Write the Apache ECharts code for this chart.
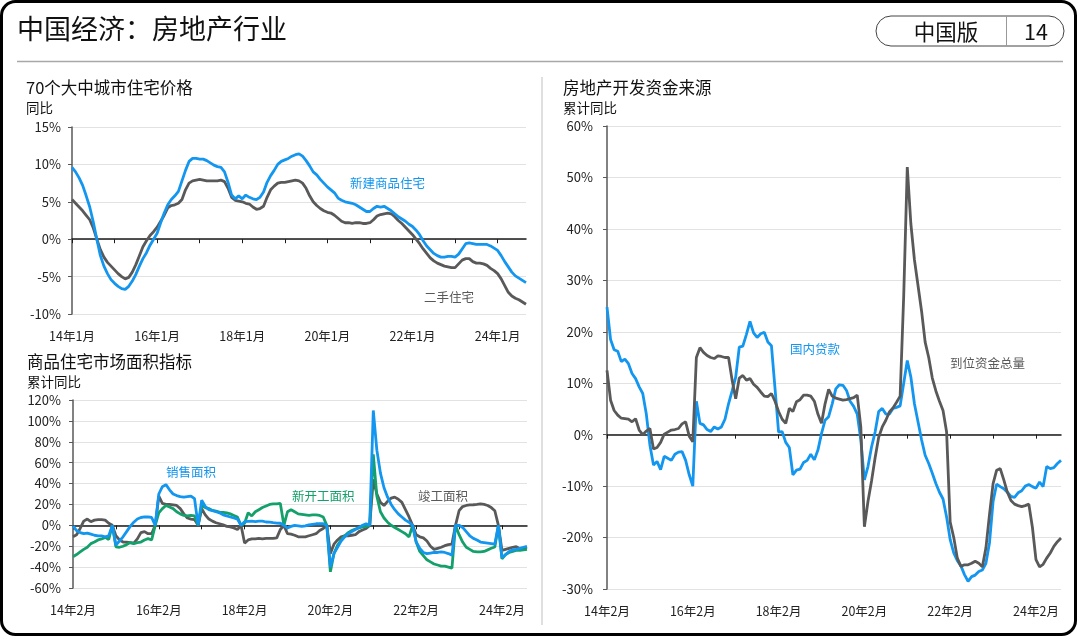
<!DOCTYPE html>
<html>
<head>
<meta charset="utf-8">
<title>中国经济：房地产行业</title>
<script src="https://cdn.jsdelivr.net/npm/echarts@6/dist/echarts.min.js"></script>
<style>
  html, body { margin: 0; padding: 0; background: #fff; }
  #main { width: 1080px; height: 637px; }
</style>
</head>
<body>
<div id="main"></div>
<script>
// 70个大中城市住宅价格 同比（14年1月起，月度）
var newHome = [
  9.6, 9.0, 8.2, 7.2, 5.8, 4.3, 2.3, 0, -2.2, -3.6,
  -4.6, -5.4, -5.9, -6.3, -6.6, -6.7, -6.3, -5.6, -4.7, -3.6,
  -2.6, -1.8, -0.8, 0, 0.8, 2.2, 3.5, 4.6, 5.3, 5.8,
  6.4, 7.8, 9.2, 10.4, 10.8, 10.8, 10.7, 10.7, 10.5, 10.2,
  9.9, 9.7, 9.6, 9.0, 7.6, 5.9, 5.4, 5.8, 5.4, 5.9,
  5.6, 5.4, 5.3, 5.6, 6.3, 7.6, 8.5, 9.2, 10.0, 10.4,
  10.6, 10.8, 11.1, 11.3, 11.4, 11.1, 10.5, 9.8, 9.0, 8.6,
  8.0, 7.5, 7.0, 6.6, 6.2, 5.5, 5.2, 5.0, 4.9, 4.8,
  4.6, 4.3, 4.0, 3.7, 3.7, 4.1, 4.4, 4.3, 4.4, 4.1,
  3.8, 3.4, 3.0, 2.7, 2.4, 2.0, 1.7, 1.2, 0.6, -0.2,
  -0.9, -1.4, -1.9, -2.2, -2.4, -2.4, -2.3, -2.3, -2.4, -2.0,
  -1.3, -0.6, -0.5, -0.6, -0.7, -0.7, -0.7, -0.7, -0.9, -1.2,
  -1.5, -2.2, -3.0, -3.7, -4.4, -4.9, -5.2, -5.5, -5.8
];
var secondHand = [
  5.3, 4.8, 4.3, 3.8, 3.2, 2.6, 1.5, 0, -1.4, -2.4,
  -3.1, -3.6, -4.1, -4.6, -5.0, -5.3, -5.1, -4.4, -3.4, -2.2,
  -1.0, -0.2, 0.5, 1.0, 1.6, 2.4, 3.2, 4.2, 4.5, 4.6,
  4.8, 5.3, 6.6, 7.5, 7.8, 7.9, 8.0, 7.9, 7.8, 7.8,
  7.8, 7.8, 7.9, 7.7, 6.8, 5.6, 5.2, 5.1, 5.0, 4.8,
  4.7, 4.3, 4.0, 4.1, 4.4, 5.6, 6.6, 7.1, 7.5, 7.6,
  7.6, 7.7, 7.8, 7.9, 7.8, 7.5, 6.8, 5.8, 5.0, 4.5,
  4.1, 3.8, 3.6, 3.5, 3.2, 2.8, 2.4, 2.2, 2.2, 2.1,
  2.2, 2.2, 2.1, 2.1, 2.2, 2.6, 3.1, 3.3, 3.4, 3.5,
  3.4, 3.0, 2.5, 2.1, 1.6, 1.1, 0.6, 0, -0.6, -1.3,
  -1.9, -2.5, -2.9, -3.2, -3.4, -3.6, -3.7, -3.8, -3.8, -3.3,
  -2.8, -2.6, -2.6, -3.0, -3.2, -3.2, -3.3, -3.5, -3.9, -4.2,
  -4.6, -5.3, -6.2, -7.1, -7.6, -7.9, -8.1, -8.4, -8.7
];

// 商品住宅市场面积指标 累计同比（14年2月起，月度；1月记为0）
var salesArea = [
  -0.5, -5, -7, -8, -7.5, -8.5, -9.5, -10, -10, -11,
  -10, 0, -19, -15, -11, -6, -1, 3, 6, 7.5,
  8, 8, 7.5, 0, 30, 37, 39, 34, 30, 28.5,
  27.5, 27, 27.5, 28, 25.5, 0, 24, 18, 15, 14,
  13, 12, 10, 9, 8, 7, 6, 0, 3.5, 3.8,
  4, 3.5, 4, 4, 3.2, 3, 2.5, 2.2, 2, 0,
  -2.5, -1, 0, -0.5, -1, -0.5, 0.5, 1, 1.5, 1.5,
  1.5, 0, -40, -27, -21, -15, -11, -8, -6, -4,
  -2, 0, 1.5, 0, 110, 72, 50, 36, 27, 20,
  15, 11, 8, 5, 3, 0, -16, -22, -26, -27,
  -26.5, -26, -26, -25.5, -26, -27, -28.5, 0, 0, -2,
  -6, -10, -12.5, -14, -16, -16.5, -17, -17.5, -18, 0,
  -31, -28, -25, -23.5, -23, -22, -21, -20
];
var startArea = [
  -30, -28, -25.5, -23, -21, -17.5, -16, -14, -13, -11.5,
  -13.5, 0, -20.5, -21, -20, -18.5, -16.5, -17.5, -16.5, -16,
  -14, -12.7, -14, 0, 12, 16, 19, 17.5, 16, 13,
  11, 9.5, 9, 9.5, 9, 0, 19, 17, 16, 14.3,
  13.5, 12.7, 12.5, 12, 11, 9.5, 8, 0, 2, 12,
  9, 13, 15, 17, 18.5, 20, 20.5, 20.5, 21, 0,
  13, 15, 13, 11, 10.5, 10, 9.5, 10, 10, 9.5,
  8, 0, -44.5, -27, -19, -14, -10, -7, -5, -3.5,
  -2.5, -1.5, -1, 0, 68, 28, 13, 7, 3, 0,
  -2, -4, -6, -8, -11, 0, -16, -25, -29, -33,
  -35, -37, -38, -39, -39, -40, -41, 0, -9, -16,
  -21, -23, -25, -25.5, -25.5, -25, -23.5, -22, -20.7, 0,
  -32, -28, -26, -25, -24, -24, -23.5, -23
];
var doneArea = [
  -11, -9, -3, 4, 6, 3.5, 5, 5.5, 5.5, 5,
  2, 0, -10, -14, -16, -16, -16.5, -17, -13, -7,
  -6, -8, -8, 0, 28, 21, 20, 20, 19.5, 19,
  16, 11, 7, 6, 5.5, 0, 16, 10, 6, 4,
  2.5, 1.5, 0.5, -1, -1.5, -2.5, -4, 0, -17, -14,
  -13, -13, -12.5, -13, -12.5, -12.5, -12.5, -12, -4, 0,
  -8, -8.5, -9.5, -11, -11, -11, -10, -9, -8, -5,
  -3, 0, -27, -18, -14, -11, -10, -10, -9.5, -9,
  -6, -4.5, -3, 0, 44, 30, 22, 19, 23, 26,
  27, 25, 22, 15, 8, 0, -9, -11, -12, -15,
  -20, -23, -22, -21, -19.5, -18.5, -18, 0, 14, 18,
  19, 19.5, 19.7, 20, 20.5, 20, 19, 17, 14, 0,
  -24, -23, -22, -21, -20.5, -22.5, -22, -21
];

// 房地产开发资金来源 累计同比（14年2月起，月度）
var loanFund = [
  24.8, 18.5, 16.5, 16.2, 14.2, 14.7, 13.8, 11.9, 10.9, 9.3,
  8.0, 4.0, -2, -5.9, -5.2, -6.8, -4.2, -4.6, -5.0, -3.8,
  -3.4, -3.3, -5.0, -7.8, -10, 6.5, 2.2, 1.9, 1.0, 0.6,
  1.5, 1.1, 1.5, 3.0, 6.0, 8.5, 11.2, 17.0, 17.2, 19.5,
  22.0, 19.8, 18.9, 19.6, 19.9, 18.0, 17.3, 9.0, 0.5, 0.6,
  -1.5, -2.5, -7.8, -6.9, -6.7, -5.4, -5.0, -3.8, -4.9, -3.0,
  0.2, 2.8, 3.5, 6.0, 8.9, 9.7, 9.6, 8.6, 6.5, 5.5,
  4.0, -1.0, -8.8, -6.2, -2.4, 0.5, 4.5, 5.1, 4.0, 4.0,
  5.1, 5.3, 5.6, 10.0, 14.4, 11.2, 6.0, 2.5, -1.0, -4.0,
  -5.6, -7.5, -9.5, -11.2, -12.5, -16, -20.4, -23, -24.5, -25.5,
  -27.2, -28.5, -27.6, -27.3, -26.6, -26.3, -25.0, -21, -13, -9.6,
  -10.1, -10.5, -11.2, -12, -12.2, -11.3, -10.9, -10, -9.7, -10.1,
  -10.4, -9.2, -10.1, -6.2, -6.6, -6.4, -5.6, -5.0
];
var totalFund = [
  12.5, 6.7, 4.7, 3.8, 3.2, 3.1, 3.0, 2.5, 3.1, 0.9,
  0, 0.7, 1.2, -2.8, -2.5, -1.5, 0.1, 0.5, 0.9, 1.0,
  1.2, 2.1, 2.5, -0.3, -1.4, 15, 16.9, 16.0, 15.4, 15.0,
  14.8, 15.3, 15.2, 15.0, 15.0, 10.6, 7.0, 11.0, 11.5, 10.6,
  10.9, 9.8, 9.2, 8.3, 7.5, 7.4, 8.0, 6.5, 4.5, 3.0,
  2.2, 5.1, 4.5, 6.4, 6.8, 7.7, 7.7, 7.5, 6.5, 4.0,
  2.2, 6.0, 8.8, 7.5, 7.1, 6.9, 6.7, 6.8, 7.0, 7.2,
  7.7, 1.5, -17.9, -13.0, -9.0, -4.5, -0.5, 1.5, 2.8, 4.4,
  5.2, 6.3, 7.5, 27, 52, 41, 34, 29, 24, 18,
  15, 11, 8.5, 6.5, 4.7, 0.5, -17, -20, -24, -25.6,
  -25.3, -25.3, -25.0, -24.6, -25.0, -25.7, -22, -15.5, -9.5, -6.9,
  -6.6, -8.8, -11.2, -12.8, -13.5, -13.8, -14, -13.8, -13.5, -18,
  -24.3, -25.7, -25.2, -24, -23, -21.7, -20.8, -20.1
];

// 月份类目：'14年1月' 这种写法
function monthList(year, month, n) {
  var out = [];
  for (var i = 0; i < n; i++) {
    var k = month - 1 + i;
    out.push(((year + Math.floor(k / 12)) % 100) + '年' + (k % 12 + 1) + '月');
  }
  return out;
}
var priceMonths = monthList(2014, 1, newHome.length);
var areaMonths = monthList(2014, 2, salesArea.length);
var fundMonths = monthList(2014, 2, loanFund.length);

var FONT = '"Noto Sans CJK SC", "Noto Sans", sans-serif';
var BLUE = '#1296F0';
var GREEN = '#13A06A';
var GREY = '#595959';

function everyN(n) {
  return function(i) { return i % n === 0; };
}

// 底部只放标签的x轴
function labelAxis(gi, data) {
  return {
    type: 'category', gridIndex: gi, data: data, boundaryGap: false, position: 'bottom',
    axisLine: { show: false, onZero: false },
    axisTick: { show: false },
    splitLine: { show: false },
    axisLabel: { interval: everyN(24), color: '#222', fontSize: 12.5, fontFamily: FONT, margin: 16 }
  };
}

// 0轴那条黑线，带年度刻度
function zeroAxis(gi, data) {
  return {
    type: 'category', gridIndex: gi, data: data, boundaryGap: false, position: 'bottom',
    axisLine: { show: true, onZero: true, lineStyle: { color: '#1a1a1a', width: 1.5 } },
    axisTick: { show: true, interval: everyN(12), length: 4, lineStyle: { color: '#1a1a1a', width: 1 } },
    axisLabel: { show: false },
    splitLine: { show: false }
  };
}

function valueAxis(gi, min, max, step, margin) {
  return {
    type: 'value', gridIndex: gi, min: min, max: max, interval: step,
    axisLine: { show: true, onZero: false, lineStyle: { color: GREY, width: 1.5 } },
    axisTick: { show: true, length: 4, lineStyle: { color: GREY } },
    axisLabel: { formatter: '{value}%', color: '#222', fontSize: 13, fontFamily: FONT, margin: margin },
    splitLine: { show: true, lineStyle: { color: '#E2E2E2', width: 1 } }
  };
}

function line(name, data, xi, yi, color, z) {
  return {
    name: name, type: 'line', data: data, xAxisIndex: xi, yAxisIndex: yi,
    symbol: 'none', showSymbol: false, silent: true, z: z,
    lineStyle: { color: color, width: 2.8 }, itemStyle: { color: color }
  };
}

function txt(text, x, y, size, color, align) {
  return {
    type: 'text', x: x, y: y, silent: true,
    style: { text: text, font: size + 'px ' + FONT, fill: color, align: align || 'left', verticalAlign: 'middle' }
  };
}

var myChart = echarts.init(document.getElementById('main'));
var option = {
  animation: false,
  backgroundColor: '#fff',
  textStyle: { fontFamily: FONT },
  grid: [
    { left: 72, top: 127, width: 454, height: 187, outerBoundsMode: 'none' },
    { left: 73, top: 400, width: 454, height: 188, outerBoundsMode: 'none' },
    { left: 607, top: 126, width: 454, height: 463, outerBoundsMode: 'none' }
  ],
  xAxis: [
    labelAxis(0, priceMonths), zeroAxis(0, priceMonths),
    labelAxis(1, areaMonths), zeroAxis(1, areaMonths),
    labelAxis(2, fundMonths), zeroAxis(2, fundMonths)
  ],
  yAxis: [
    valueAxis(0, -10, 15, 5, 11),
    valueAxis(1, -60, 120, 20, 12),
    valueAxis(2, -30, 60, 10, 14)
  ],
  series: [
    line('二手住宅', secondHand, 0, 0, GREY, 2),
    line('新建商品住宅', newHome, 0, 0, BLUE, 3),
    line('竣工面积', doneArea, 2, 1, GREY, 2),
    line('新开工面积', startArea, 2, 1, GREEN, 3),
    line('销售面积', salesArea, 2, 1, BLUE, 4),
    line('国内贷款', loanFund, 4, 2, BLUE, 2),
    line('到位资金总量', totalFund, 4, 2, GREY, 3)
  ],
  graphic: [
    { type: 'rect', silent: true, shape: { x: 1.5, y: 1.5, width: 1074, height: 633, r: 14 },
      style: { fill: 'none', stroke: '#000', lineWidth: 3 } },
    txt('中国经济：房地产行业', 17, 29, 27, '#111'),
    { type: 'rect', silent: true, shape: { x: 876, y: 16, width: 188, height: 30, r: 15 },
      style: { fill: 'none', stroke: '#444', lineWidth: 1 } },
    { type: 'line', silent: true, shape: { x1: 1006.5, y1: 16, x2: 1006.5, y2: 46 },
      style: { stroke: '#999', lineWidth: 1 } },
    txt('中国版', 946, 31.5, 21.5, '#111', 'center'),
    txt('14', 1036, 31.5, 21.5, '#111', 'center'),
    { type: 'line', silent: true, shape: { x1: 17, y1: 61.5, x2: 1063, y2: 61.5 },
      style: { stroke: '#A8A8A8', lineWidth: 1.5 } },
    { type: 'line', silent: true, shape: { x1: 542, y1: 77, x2: 542, y2: 625 },
      style: { stroke: '#BFBFBF', lineWidth: 1 } },

    txt('70个大中城市住宅价格', 26, 88, 16.5, '#111'),
    txt('同比', 26, 108, 13.5, '#111'),
    txt('商品住宅市场面积指标', 27, 362, 16.5, '#111'),
    txt('累计同比', 27, 382, 13.5, '#111'),
    txt('房地产开发资金来源', 563, 88, 16.5, '#111'),
    txt('累计同比', 563, 108, 13.5, '#111'),

    txt('新建商品住宅', 350, 183, 12.5, BLUE),
    txt('二手住宅', 424, 297, 12.5, GREY),
    txt('销售面积', 166, 472, 12.5, BLUE),
    txt('新开工面积', 292, 496, 12.5, GREEN),
    txt('竣工面积', 418, 496, 12.5, GREY),
    txt('国内贷款', 790, 349, 12.5, BLUE),
    txt('到位资金总量', 950, 363, 12.5, GREY)
  ]
};
myChart.setOption(option);
window.addEventListener('resize', function() {
  myChart.resize();
});
</script>
</body>
</html>
